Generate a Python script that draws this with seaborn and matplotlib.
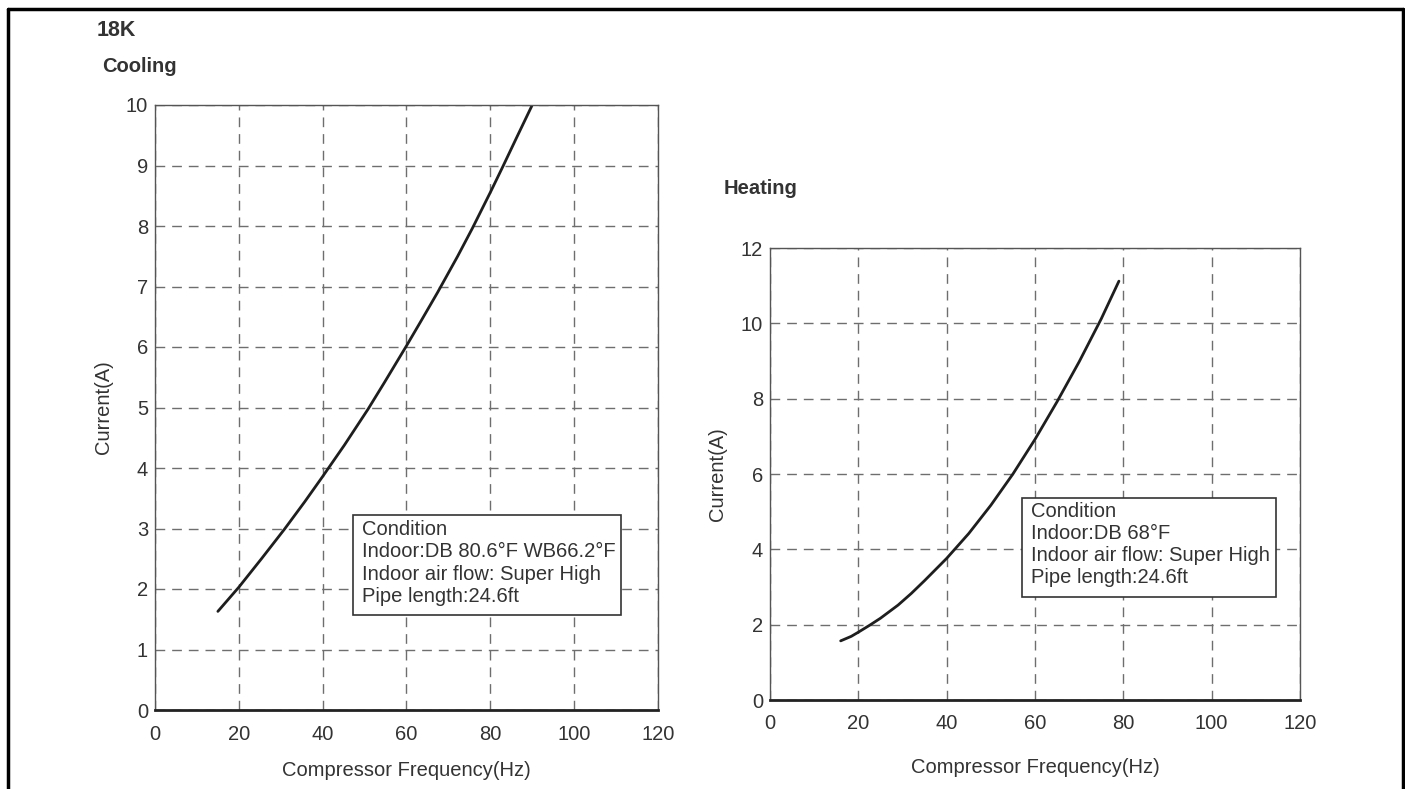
import matplotlib
matplotlib.use("Agg")
import matplotlib.pyplot as plt
from matplotlib.lines import Line2D
from matplotlib.patches import Rectangle
import seaborn as sns
import pandas as pd

# values
cool_freq = [15.0, 20.0, 25.4, 30.9, 35.7, 40.0, 45.2, 50.8, 54.7, 60.0, 63.3, 67.4, 72.2,
             75.7, 80.1, 82.9, 86.4, 90.0]
cool_curr = [1.63, 2.03, 2.50, 2.99, 3.44, 3.86, 4.38, 4.97, 5.41, 6.02, 6.41, 6.90, 7.50,
             7.96, 8.57, 8.97, 9.48, 10.0]

heat_freq = [16.0, 18.4, 20.0, 22.5, 25.0, 29.0, 32.0, 35.0, 40.0, 45.0, 50.0, 55.0, 60.0,
             65.0, 70.0, 75.0, 79.0]
heat_curr = [1.57, 1.69, 1.80, 1.98, 2.17, 2.52, 2.83, 3.17, 3.76, 4.42, 5.17, 6.00, 6.92,
             7.92, 8.98, 10.12, 11.12]

x_ticks = [0, 20, 40, 60, 80, 100, 120]
cool_yticks = list(range(0, 11))
heat_yticks = [0, 2, 4, 6, 8, 10, 12]

cool_note = "Condition\nIndoor:DB 80.6°F WB66.2°F\nIndoor air flow: Super High\nPipe length:24.6ft"
heat_note = "Condition\nIndoor:DB 68°F\nIndoor air flow: Super High\nPipe length:24.6ft"

sns.set_style("white")
plt.rcParams['font.family'] = ['Liberation Sans', 'DejaVu Sans']
txt = '#333333'
fs = 14.5

fig = plt.figure(figsize=(14.05, 7.89), dpi=100)
W, H = 1405, 789


def box(l, t, r, b):
    return [l / W, 1 - b / H, (r - l) / W, (b - t) / H]


def panel(ax, fx, fy, yticks, note, nbox, xpad, xlabelpad, ylab_x):
    df = pd.DataFrame({'freq': fx, 'curr': fy})
    sns.lineplot(data=df, x='freq', y='curr', ax=ax, color='#1e1e1e', lw=2.0,
                 sort=False, estimator=None)
    ax.set_xlim(0, 120)
    ax.set_ylim(yticks[0], yticks[-1])
    ax.set_xticks(x_ticks)
    ax.set_yticks(yticks)
    ax.tick_params(length=0, labelsize=fs, colors=txt)
    ax.tick_params(axis='x', pad=xpad)
    ax.tick_params(axis='y', pad=5)
    ax.grid(True, color='#6e6e6e', lw=1.0, ls=(0, (7, 5)))
    ax.set_xlabel('Compressor Frequency(Hz)', fontsize=fs, color=txt, labelpad=xlabelpad)
    ax.set_ylabel('Current(A)', fontsize=fs, color=txt)
    ax.yaxis.set_label_coords(ylab_x, 0.5)
    for s in ['top', 'left', 'right']:
        ax.spines[s].set_color('#555555')
        ax.spines[s].set_linewidth(1.0)
    ax.spines['bottom'].set_color('#222222')
    ax.spines['bottom'].set_linewidth(2.0)
    x0, y0, x1, y1 = nbox
    ax.add_patch(Rectangle((x0, y0), x1 - x0, y1 - y0, transform=ax.transAxes,
                           fill=True, facecolor='white', edgecolor='#333333',
                           lw=1.2, zorder=5))
    ax.text(x0 + 0.018, y1 - 0.008, note, transform=ax.transAxes, ha='left', va='top',
            fontsize=fs, color=txt, linespacing=1.22, zorder=6)


ax1 = fig.add_axes(box(155, 105, 658, 710))
panel(ax1, cool_freq, cool_curr, cool_yticks, cool_note, (0.394, 0.157, 0.926, 0.322),
      11, 12, -0.0835)

ax2 = fig.add_axes(box(770, 248, 1300, 700))
panel(ax2, heat_freq, heat_curr, heat_yticks, heat_note, (0.475, 0.228, 0.955, 0.447),
      10, 18, -0.081)

fig.text(97 / W, 1 - 31 / H, '18K', fontsize=15.5, fontweight='bold', color=txt, va='center')
fig.text(102 / W, 1 - 67 / H, 'Cooling', fontsize=14.5, fontweight='bold', color=txt, va='center')
fig.text(724 / W, 1 - 188 / H, 'Heating', fontsize=14.5, fontweight='bold', color=txt, va='center')

# outer frame (bottom edge runs off the page)
fig.add_artist(Line2D([8 / W, 8 / W], [0, 1 - 9 / H], color='black', lw=2.5))
fig.add_artist(Line2D([8 / W, 1403 / W], [1 - 9 / H, 1 - 9 / H], color='black', lw=2.5))
fig.add_artist(Line2D([1403 / W, 1403 / W], [1 - 9 / H, 0], color='black', lw=2.5))

fig.savefig('out.png', dpi=100)
